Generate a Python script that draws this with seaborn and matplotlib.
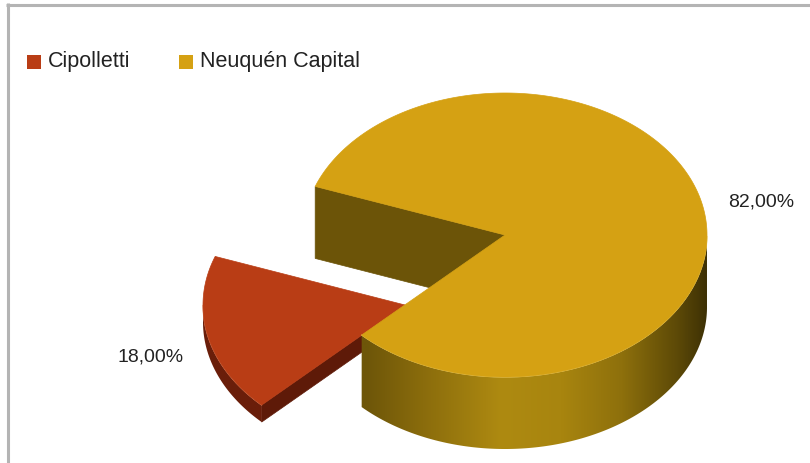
import numpy as np
import matplotlib
matplotlib.use("Agg")
import matplotlib.pyplot as plt
from matplotlib.patches import Polygon, Rectangle
from matplotlib.colors import LinearSegmentedColormap
import seaborn as sns

# Data
cities = ["Cipolletti", "Neuquén Capital"]
shares = [18.0, 82.0]
value_labels = ["18,00%", "82,00%"]

sns.set_theme(style="white")
plt.rcParams["font.family"] = ["Liberation Sans", "DejaVu Sans"]

top_colors = sns.color_palette(["#B93D15", "#D5A113"])
cut_colors = ["#5E1A08", "#6C5408"]
wall_stops = [
    ["#6A1E0A", "#6A1E0A"],
    ["#6E5609", "#6E5609", "#8A6C0C", "#AE8A11", "#A8850F", "#8E700C", "#5C4907", "#3E3105"],
]
wall_pos = [
    [0.0, 1.0],
    [0.0, 0.157, 0.296, 0.49, 0.64, 0.79, 0.93, 1.0],
]
rim_colors = ["#E59A78", "#F2D77C"]

# Projection of the disc (pixel space)
W, H = 810, 463
cx, cy, rx, ry = 505.0, 235.0, 202.0, 142.0
start_angle = 160.0
offsets = [(-100.0, 70.0), (0.0, 0.0)]
thickness = [17.0, 72.0]
label_pos = [(151, 357), (761, 202)]

fig = plt.figure(figsize=(W / 100, H / 100), dpi=100)
ax = fig.add_axes([0, 0, 1, 1])
ax.set_xlim(0, W)
ax.set_ylim(H, 0)
ax.axis("off")


def rim(t_deg, dx=0.0, dy=0.0, dz=0.0):
    t = np.radians(t_deg)
    return np.column_stack([cx + dx + rx * np.cos(t), cy + dy - ry * np.sin(t) + dz])


fractions = np.array(shares) / np.sum(shares)
bounds = start_angle + 360.0 * np.concatenate([[0.0], np.cumsum(fractions)])
slices = [(bounds[i], bounds[i + 1]) for i in range(len(shares))]


def draw_end_face(i, angle, z):
    dx, dy = offsets[i]
    d = thickness[i]
    c = np.array([[cx + dx, cy + dy]])
    p = rim(np.array([angle]), dx, dy)
    quad = np.vstack([c, p, p + [0, d], c + [0, d]])
    ax.add_patch(Polygon(quad, closed=True, facecolor=cut_colors[i],
                         edgecolor=cut_colors[i], lw=0.5, zorder=z))


def draw_outer_wall(i, z):
    a0, a1 = slices[i]
    dx, dy = offsets[i]
    d = thickness[i]
    t = np.linspace(a0, a1, 400)
    vis = np.sin(np.radians(t)) < 0
    if not vis.any():
        return
    tv = t[vis]
    top = rim(tv, dx, dy)
    bot = rim(tv[::-1], dx, dy, d)
    poly = Polygon(np.vstack([top, bot]), closed=True, facecolor="none",
                   edgecolor="none", zorder=z)
    ax.add_patch(poly)
    cmap = LinearSegmentedColormap.from_list(
        f"wall{i}", list(zip(wall_pos[i], wall_stops[i])))
    grad = np.linspace(0, 1, 512)[None, :]
    x0, x1 = cx + dx - rx, cx + dx + rx
    im = ax.imshow(grad, extent=[x0, x1, cy + dy + ry + d + 2, cy + dy - ry - 2],
                   cmap=cmap, aspect="auto", interpolation="bilinear", zorder=z)
    im.set_clip_path(poly)
    ax.plot(top[:, 0], top[:, 1], color=rim_colors[i], lw=0.8, zorder=z + 0.5)


def draw_top(i, z):
    a0, a1 = slices[i]
    dx, dy = offsets[i]
    t = np.linspace(a0, a1, 400)
    pts = np.vstack([[cx + dx, cy + dy], rim(t, dx, dy)])
    ax.add_patch(Polygon(pts, closed=True, facecolor=top_colors[i],
                         edgecolor=top_colors[i], lw=0.5, zorder=z))


# Back cut face of the large slice
draw_end_face(1, slices[1][1], 1)

# Exploded small slice
draw_end_face(0, slices[0][1], 2)
draw_outer_wall(0, 2.2)
draw_top(0, 3)

# Large slice front wall and top
draw_outer_wall(1, 4)
draw_top(1, 5)

# Value labels
for (x, y), txt in zip(label_pos, value_labels):
    ax.text(x, y, txt, ha="center", va="center", fontsize=14, color="#222222", zorder=10)

# Legend
legend_x = [27, 179]
for x, name, col in zip(legend_x, cities, top_colors):
    ax.add_patch(Rectangle((x, 55), 14, 14, facecolor=col, edgecolor="none", zorder=10))
    ax.text(x + 21, 62, name, ha="left", va="center", fontsize=15.5, color="#222222", zorder=10)

# Frame
ax.plot([7.5, 7.5], [3, H], color="#B4B4B4", lw=2.2, solid_capstyle="butt", zorder=11)
ax.plot([6, W], [4.5, 4.5], color="#B4B4B4", lw=2.2, solid_capstyle="butt", zorder=11)

fig.savefig("out.png", dpi=100, facecolor="white")
